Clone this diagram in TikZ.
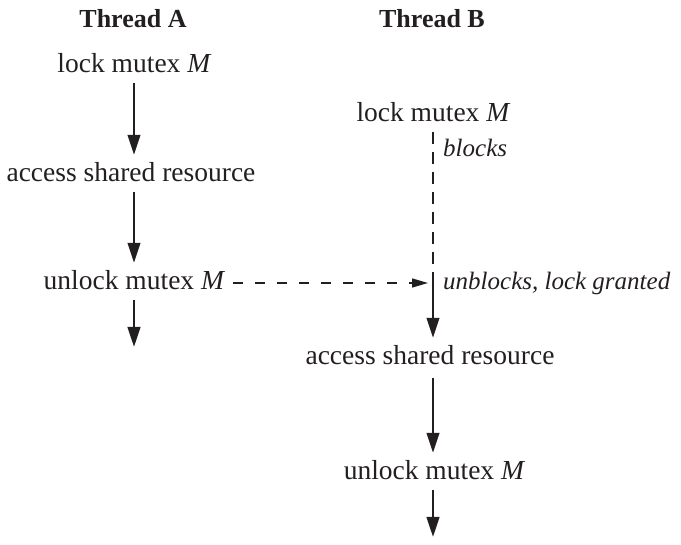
\documentclass[tikz,border=0pt]{standalone}
\usepackage{fontspec}
\setmainfont{Liberation Serif}
\usetikzlibrary{arrows.meta}
\definecolor{ink}{HTML}{231F20}
\tikzset{
  txt/.style={inner sep=0pt, anchor=base, text height=19pt, text depth=0pt, text=ink, font=\fontsize{27.5}{32}\selectfont},
  head/.style={inner sep=0pt, anchor=base, text=ink, font=\fontsize{26}{30}\selectfont\bfseries},
  lbl/.style={inner sep=0pt, anchor=base west, text=ink, font=\fontsize{25}{30}\selectfont\itshape},
  flow/.style={draw=ink, line width=2.7pt, -{Triangle[length=20pt,width=12.5pt]}, shorten <=10pt, shorten >=8pt},
  wait/.style={draw=ink, line width=2.4pt, dash pattern=on 12pt off 8pt},
  signal/.style={draw=ink, line width=1.4pt, dash pattern=on 10pt off 12pt, -{Triangle[length=16pt,width=9pt]}},
}
\begin{document}
\begin{tikzpicture}[x=1pt,y=-1pt]
\useasboundingbox (0,0) rectangle (681,545);
\coordinate (colA) at (134,0);
\coordinate (colB) at (433,0);
\node[head] (tha) at (133,28) {Thread A};
\node[head] (thb) at (432,28) {Thread B};
\node[txt] (la) at (134.5,73) {lock mutex \textit{M}};
\node[txt] (aa) at (131,182) {access shared resource};
\node[txt] (ua) at (134.5,290) {unlock mutex \textit{M}};
\coordinate (endA) at (134,347);
\node[txt] (lb) at (433.5,122) {lock mutex \textit{M}};
\node[lbl] (blk) at (443,157) {blocks};
\coordinate (grant) at (433,283);
\node[lbl] (ubl) at (443,290) {unblocks, lock granted};
\node[txt] (ab) at (430,365) {access shared resource};
\node[txt] (ub) at (434.5,480) {unlock mutex \textit{M}};
\coordinate (endB) at (433,537);
% Thread A
\draw[flow] (la.south -| colA) -- (aa.north -| colA);
\draw[flow] (aa.south -| colA) -- (ua.north -| colA);
\draw[flow, shorten >=0pt] (ua.south -| colA) -- (endA);
% Thread B
\draw[wait, shorten <=10pt] (lb.south -| colB) -- (grant);
\draw[flow, shorten <=0pt] (grant) -- (ab.north -| colB);
\draw[flow, shorten <=13pt] (ab.south -| colB) -- (ub.north -| colB);
\draw[flow, shorten >=0pt] (ub.south -| colB) -- (endB);
% signal
\draw[signal, shorten <=8pt, shorten >=5pt] (ua.east |- grant) -- (grant);
\end{tikzpicture}
\end{document}
